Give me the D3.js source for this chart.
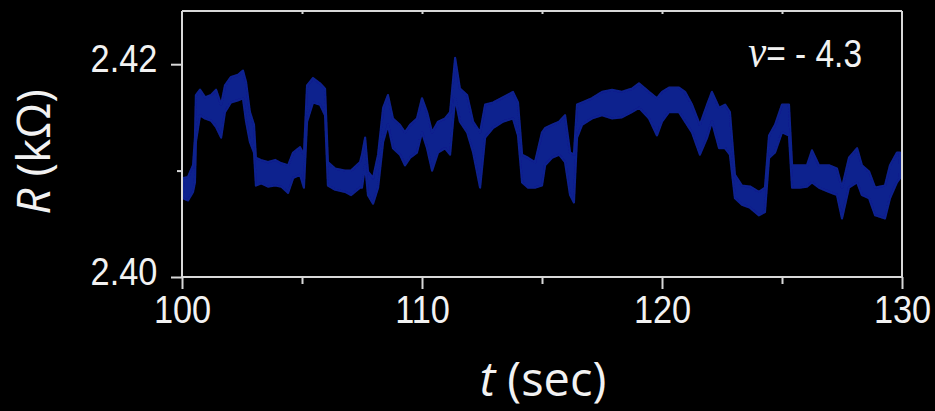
<!DOCTYPE html>
<html><head><meta charset="utf-8">
<script src="https://cdn.jsdelivr.net/npm/d3@7"></script>
<style>
html,body{margin:0;padding:0;background:#000;}
svg{display:block;}
</style></head>
<body>
<svg id="c" width="935" height="411"></svg>
<script>
// ---- data ----
const time = [100.04,100.25,100.46,100.54,100.58,100.75,100.96,101.21,101.42,101.63,101.79,102.04,102.33,102.54,102.67,102.83,103.00,103.08,103.29,103.58,103.88,104.13,104.42,104.63,104.92,105.08,105.21,105.46,105.75,105.96,106.08,106.38,106.79,107.04,107.42,107.50,107.63,107.75,107.96,108.17,108.38,108.58,108.79,109.08,109.29,109.50,109.79,110.00,110.21,110.42,110.67,110.96,111.17,111.38,111.58,111.88,112.13,112.42,112.63,112.96,113.38,113.79,114.00,114.17,114.42,114.71,115.00,115.13,115.42,115.71,115.96,116.17,116.33,116.46,116.67,117.08,117.50,117.92,118.33,118.75,119.04,119.46,119.79,120.00,120.29,120.71,120.96,121.25,121.58,121.88,122.08,122.38,122.63,122.83,123.04,123.33,123.67,124.04,124.29,124.46,124.71,125.00,125.29,125.42,125.75,126.04,126.25,126.54,126.96,127.29,127.50,127.79,128.13,128.33,128.63,128.88,129.29,129.50,129.79,129.92];
const rUpper = [2.4093,2.4094,2.4105,2.4131,2.4171,2.4176,2.4169,2.4171,2.4176,2.4162,2.4180,2.4188,2.4190,2.4194,2.4183,2.4155,2.4143,2.4112,2.4110,2.4108,2.4110,2.4107,2.4105,2.4117,2.4122,2.4115,2.4180,2.4187,2.4182,2.4177,2.4108,2.4102,2.4100,2.4100,2.4108,2.4115,2.4131,2.4099,2.4093,2.4115,2.4159,2.4171,2.4149,2.4143,2.4136,2.4143,2.4149,2.4168,2.4155,2.4136,2.4146,2.4149,2.4155,2.4206,2.4177,2.4171,2.4146,2.4136,2.4162,2.4164,2.4169,2.4174,2.4164,2.4115,2.4112,2.4108,2.4136,2.4140,2.4143,2.4146,2.4152,2.4117,2.4115,2.4162,2.4164,2.4168,2.4174,2.4176,2.4174,2.4177,2.4182,2.4174,2.4168,2.4174,2.4178,2.4178,2.4174,2.4162,2.4143,2.4162,2.4174,2.4159,2.4162,2.4155,2.4096,2.4086,2.4085,2.4080,2.4084,2.4133,2.4143,2.4162,2.4162,2.4105,2.4105,2.4105,2.4119,2.4105,2.4105,2.4102,2.4084,2.4112,2.4121,2.4105,2.4099,2.4084,2.4086,2.4105,2.4117,2.4117];
const rLower = [2.4074,2.4072,2.4080,2.4089,2.4127,2.4152,2.4149,2.4147,2.4141,2.4131,2.4155,2.4164,2.4166,2.4168,2.4146,2.4127,2.4117,2.4086,2.4088,2.4085,2.4086,2.4085,2.4079,2.4093,2.4096,2.4084,2.4146,2.4164,2.4162,2.4152,2.4086,2.4082,2.4080,2.4077,2.4084,2.4084,2.4105,2.4077,2.4069,2.4084,2.4127,2.4143,2.4121,2.4115,2.4105,2.4112,2.4117,2.4136,2.4121,2.4100,2.4117,2.4121,2.4115,2.4168,2.4146,2.4136,2.4117,2.4084,2.4131,2.4140,2.4146,2.4149,2.4133,2.4089,2.4084,2.4084,2.4086,2.4105,2.4112,2.4115,2.4108,2.4077,2.4070,2.4131,2.4143,2.4149,2.4152,2.4149,2.4150,2.4155,2.4159,2.4149,2.4133,2.4146,2.4155,2.4155,2.4146,2.4136,2.4115,2.4131,2.4146,2.4121,2.4121,2.4115,2.4074,2.4068,2.4065,2.4058,2.4061,2.4112,2.4117,2.4136,2.4133,2.4084,2.4084,2.4085,2.4089,2.4084,2.4080,2.4077,2.4055,2.4084,2.4089,2.4077,2.4074,2.4058,2.4055,2.4074,2.4089,2.4093];
const xMajorTicks = [100,110,120,130];
const xMinorTicks = [105,115,125];
const yMajorTicks = [2.40,2.42];
const yMinorTicks = [2.41];
const xDomain = [100,130];
const yDomain = [2.40,2.425];
const annotation = {sym:"\u03BD", text:"= - 4.3"};

// ---- layout ----
const L = 182, R = 902, T = 11, B = 277;
const svg = d3.select("#c");
svg.append("rect").attr("width",935).attr("height",411).attr("fill","#000");
const defs = svg.append("defs");
defs.append("filter").attr("id","soft").append("feGaussianBlur").attr("stdDeviation",0.7);

const x = d3.scaleLinear().domain(xDomain).range([L,R]);
const y = d3.scaleLinear().domain(yDomain).range([B,T]);

const axisCol = "#d8d8d8", textCol = "#f2f2f2";
const fontTick = "'Liberation Sans', Arial, sans-serif";

// trace band
const pts = time.map((t,i)=>({t, hi:rUpper[i], lo:rLower[i]}));
const area = d3.area().x(d=>x(d.t)).y0(d=>y(d.lo)).y1(d=>y(d.hi));
svg.append("path").datum(pts).attr("d",area)
  .attr("fill","#10208e").attr("stroke","#10208e").attr("stroke-width",2.2)
  .attr("stroke-linejoin","round").attr("filter","url(#soft)");

function styleAxis(g){
  g.selectAll("path,line").attr("stroke",axisCol).attr("stroke-width",2);
  g.select(".domain").remove();
}
// frame lines
svg.append("line").attr("x1",L).attr("x2",R).attr("y1",T).attr("y2",T).attr("stroke",axisCol).attr("stroke-width",2);
svg.append("line").attr("x1",L).attr("x2",R).attr("y1",B).attr("y2",B).attr("stroke",axisCol).attr("stroke-width",2);
svg.append("line").attr("x1",L).attr("x2",L).attr("y1",T).attr("y2",B).attr("stroke",axisCol).attr("stroke-width",2);
svg.append("line").attr("x1",R).attr("x2",R).attr("y1",T).attr("y2",B).attr("stroke",axisCol).attr("stroke-width",2);

// bottom axis major
const gxb = svg.append("g").attr("transform",`translate(0,${B})`)
  .call(d3.axisBottom(x).tickValues(xMajorTicks).tickSize(12).tickPadding(0).tickFormat(d3.format("d")));
styleAxis(gxb);
gxb.selectAll("text").attr("fill",textCol).attr("font-family",fontTick).attr("font-size",39)
  .attr("y",46).attr("dy",0).attr("transform","scale(0.88,1)");
// bottom minor
const gxbm = svg.append("g").attr("transform",`translate(0,${B})`)
  .call(d3.axisBottom(x).tickValues(xMinorTicks).tickSize(7).tickFormat(""));
styleAxis(gxbm);
// top ticks
const gxt = svg.append("g").attr("transform",`translate(0,${T})`)
  .call(d3.axisTop(x).tickValues(xMinorTicks.concat([110,120])).tickSize(-3).tickFormat(""));
styleAxis(gxt);

// left axis major
const gyl = svg.append("g").attr("transform",`translate(${L},0)`)
  .call(d3.axisLeft(y).tickValues(yMajorTicks).tickSize(11).tickPadding(0).tickFormat(d3.format(".2f")));
styleAxis(gyl);
gyl.selectAll("text").attr("fill",textCol).attr("font-family",fontTick).attr("font-size",39)
  .attr("x",-28).attr("dy",0).attr("y",7).attr("transform","scale(0.88,1)");
const gylm = svg.append("g").attr("transform",`translate(${L},0)`)
  .call(d3.axisLeft(y).tickValues(yMinorTicks).tickSize(5).tickFormat(""));
styleAxis(gylm);

// axis titles
const yt = svg.append("text").attr("transform","translate(50,152) rotate(-90)")
  .attr("text-anchor","middle").attr("fill",textCol)
  .attr("font-family","'Open Sans', sans-serif").attr("font-size",46);
yt.append("tspan").attr("font-style","italic").text("R");
yt.append("tspan").text(" (k\u03A9)");

const xt = svg.append("text").attr("x",543).attr("y",396)
  .attr("text-anchor","middle").attr("fill",textCol)
  .attr("font-family","'Open Sans', sans-serif").attr("font-size",47);
xt.append("tspan").attr("font-style","italic").text("t");
xt.append("tspan").text(" (sec)");

// annotation
const an = svg.append("text").attr("transform","translate(862,67) scale(0.88,1)")
  .attr("text-anchor","end").attr("fill",textCol)
  .attr("font-family",fontTick).attr("font-size",38);
an.append("tspan").attr("font-family","'Liberation Serif', serif").attr("font-style","italic").attr("font-size",46).text(annotation.sym);
an.append("tspan").text(annotation.text);
</script>
</body></html>
